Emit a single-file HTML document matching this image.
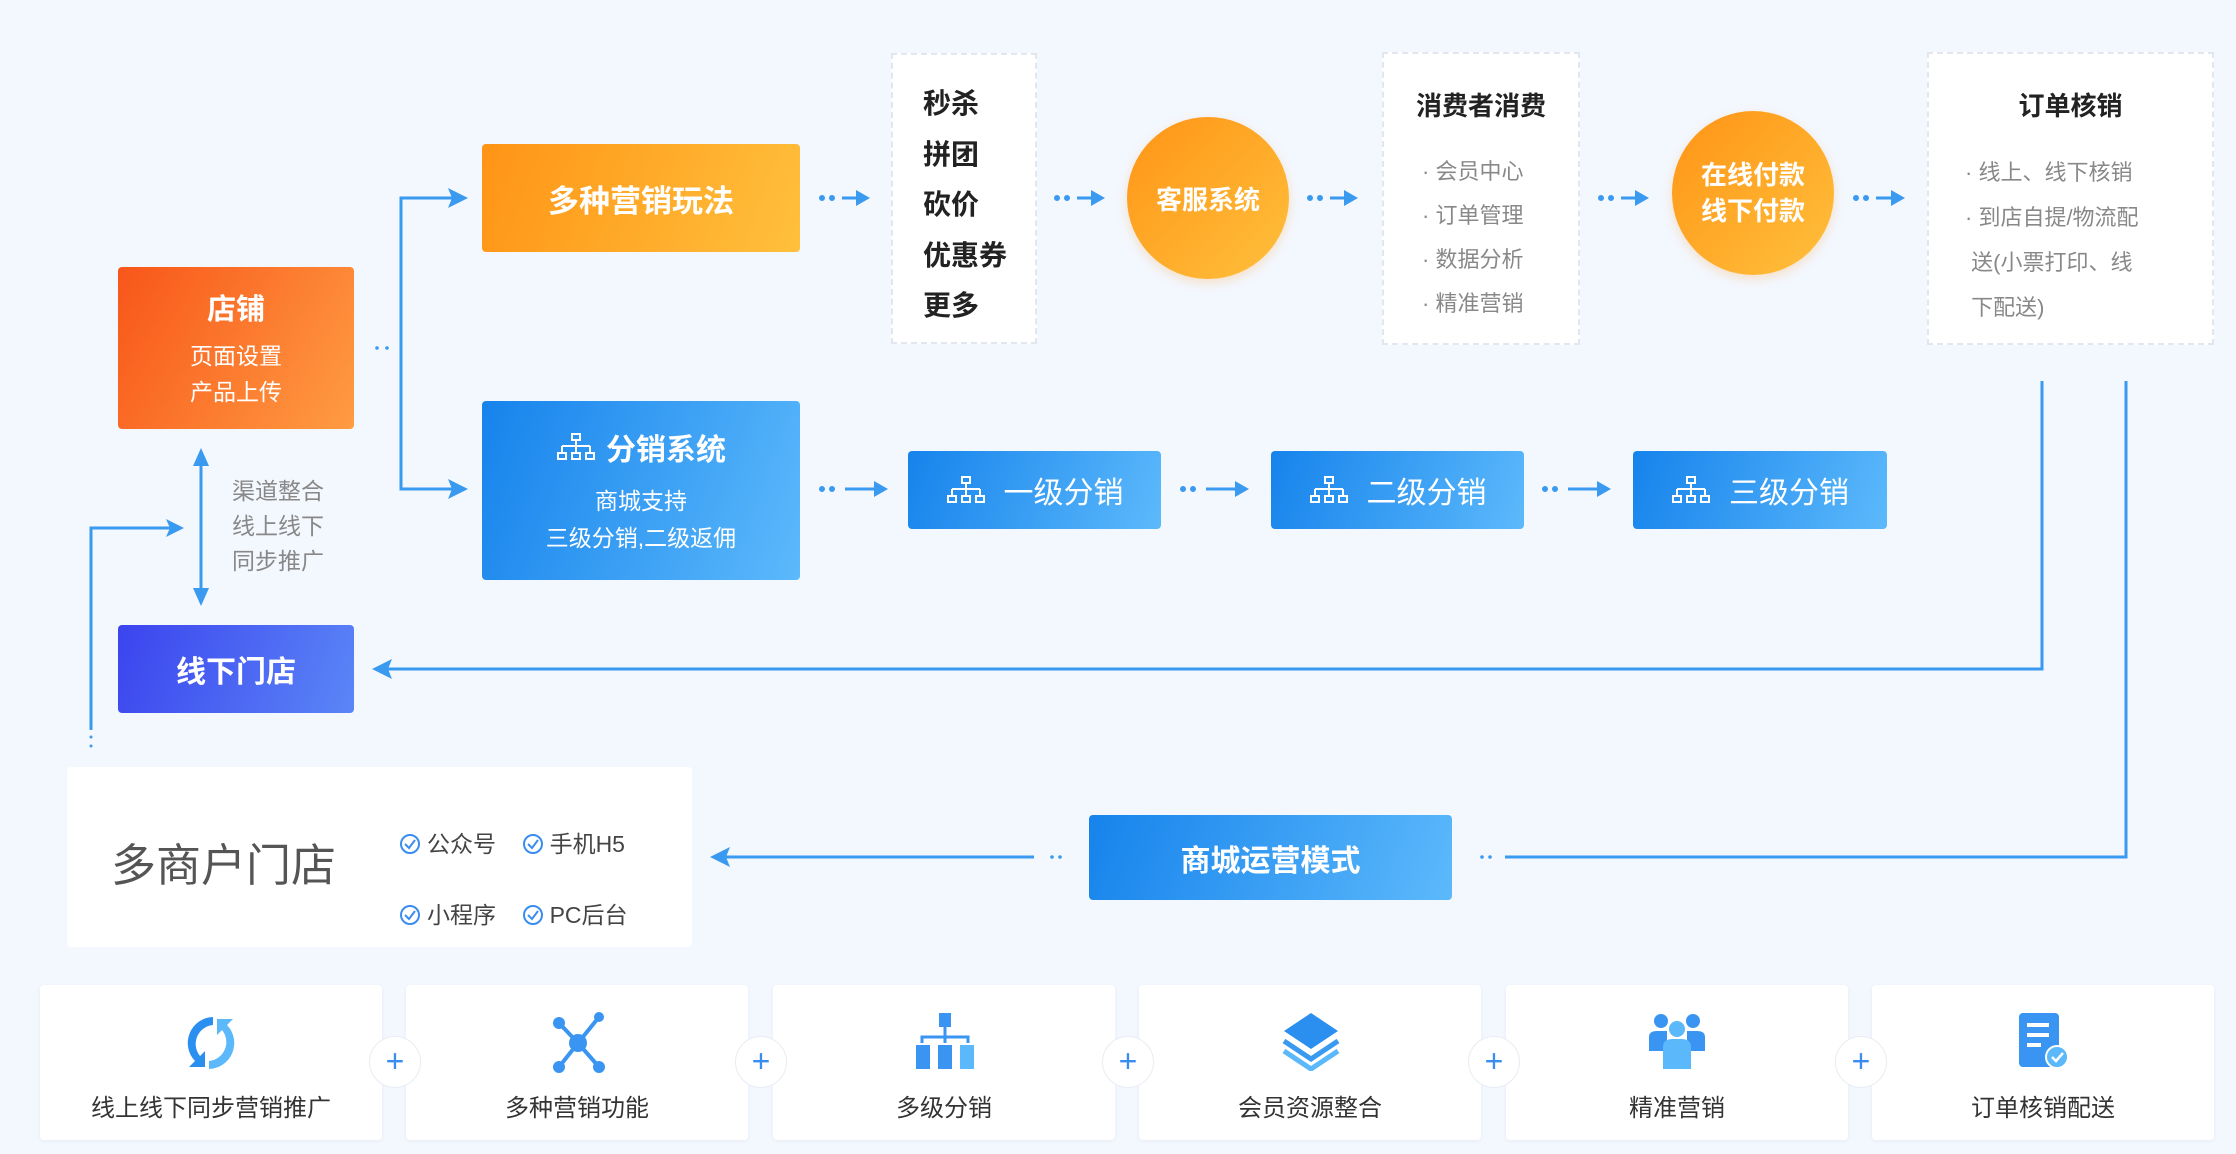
<!DOCTYPE html>
<html><head><meta charset="utf-8"><style>
*{margin:0;padding:0;box-sizing:border-box}
body{width:2236px;height:1154px;background:#f3f7fe;position:relative;overflow:hidden;font-family:"Liberation Sans","Noto Sans CJK SC",sans-serif}
.a{position:absolute}
.box{position:absolute;display:flex;flex-direction:column;align-items:center;justify-content:center;color:#fff;border-radius:4px}
.or{background:linear-gradient(110deg,#ff9416,#ffc03c)}
.bl{background:linear-gradient(110deg,#1683ec,#5cb9fb)}
.dash{position:absolute;background:#fff;border:2px dashed #e2e6ee}
.circ{position:absolute;border-radius:50%;background:linear-gradient(135deg,#ff9416,#ffc03c);color:#fff;display:flex;align-items:center;justify-content:center;text-align:center;font-weight:bold;box-shadow:0 4px 10px rgba(255,160,40,.25)}
.card{position:absolute;top:985px;height:155px;width:342px;background:#fff;border-radius:4px;box-shadow:0 1px 4px rgba(0,0,0,.05)}
.card .t{position:absolute;top:103px;width:100%;text-align:center;font-size:24px;color:#333}
.plus{position:absolute;top:1036px;width:52px;height:52px;border-radius:50%;background:#fff;border:1px solid #e8ecf3;color:#3a8df0;font-size:32px;line-height:48px;text-align:center}
.g{color:#888;font-size:22px}
.ck{display:inline-block;vertical-align:-3px;margin-right:6px}
</style></head><body>

<svg class="a" style="left:0;top:0" width="2236" height="1154">
<g stroke="#3a9af0" stroke-width="3" fill="none">
<path d="M455,198 H401 V489 H455"/>
<path d="M201,455 V600" />
<path d="M91,730 V528 H170"/>
<path d="M2042,381 V669 H380"/>
<path d="M2126,381 V857 H1505"/>
<path d="M1034,857 H715"/>
</g>
<g fill="#3a9af0">
<polygon points="468,198 448,188 452,198 448,208"/>
<polygon points="468,489 448,479 452,489 448,499"/>
<polygon points="201,448 193,466 209,466"/><polygon points="201,606 193,588 209,588"/>
<polygon points="184,528 166,519 170,528 166,537"/>
<polygon points="372,669 392,659 388,669 392,679"/>
<polygon points="710,857 730,847 726,857 730,867"/>
<circle cx="91" cy="737" r="1.5"/><circle cx="91" cy="746" r="1.5"/>
<circle cx="377" cy="348" r="1.8"/><circle cx="387" cy="348" r="1.8"/>
<circle cx="1052" cy="857" r="1.8"/><circle cx="1060" cy="857" r="1.8"/>
<circle cx="1482" cy="857" r="1.8"/><circle cx="1490" cy="857" r="1.8"/>
</g>
<g fill="#3a9af0" stroke="#3a9af0" stroke-width="3">
<g><circle cx="822" cy="198" r="1.5"/><circle cx="832" cy="198" r="1.5"/><line x1="842" y1="198" x2="862" y2="198"/><polygon points="870,198 856,190 856,206" stroke="none"/></g>
<g><circle cx="1057" cy="198" r="1.5"/><circle cx="1067" cy="198" r="1.5"/><line x1="1077" y1="198" x2="1097" y2="198"/><polygon points="1105,198 1091,190 1091,206" stroke="none"/></g>
<g><circle cx="1310" cy="198" r="1.5"/><circle cx="1320" cy="198" r="1.5"/><line x1="1330" y1="198" x2="1350" y2="198"/><polygon points="1358,198 1344,190 1344,206" stroke="none"/></g>
<g><circle cx="1601" cy="198" r="1.5"/><circle cx="1611" cy="198" r="1.5"/><line x1="1621" y1="198" x2="1641" y2="198"/><polygon points="1649,198 1635,190 1635,206" stroke="none"/></g>
<g><circle cx="1856" cy="198" r="1.5"/><circle cx="1866" cy="198" r="1.5"/><line x1="1876" y1="198" x2="1897" y2="198"/><polygon points="1905,198 1891,190 1891,206" stroke="none"/></g>
<g><circle cx="822" cy="489" r="1.5"/><circle cx="832" cy="489" r="1.5"/><line x1="845" y1="489" x2="880" y2="489"/><polygon points="888,489 874,481 874,497" stroke="none"/></g>
<g><circle cx="1183" cy="489" r="1.5"/><circle cx="1193" cy="489" r="1.5"/><line x1="1206" y1="489" x2="1241" y2="489"/><polygon points="1249,489 1235,481 1235,497" stroke="none"/></g>
<g><circle cx="1545" cy="489" r="1.5"/><circle cx="1555" cy="489" r="1.5"/><line x1="1568" y1="489" x2="1603" y2="489"/><polygon points="1611,489 1597,481 1597,497" stroke="none"/></g>
</g>
</svg>

<div class="box" style="left:118px;top:267px;width:236px;height:162px;background:linear-gradient(120deg,#f8561a,#ff9c42)">
<div style="font-size:29px;font-weight:bold;margin-bottom:10px">店铺</div>
<div style="font-size:23px;line-height:36px;text-align:center">页面设置<br>产品上传</div></div>

<div class="box or" style="left:482px;top:144px;width:318px;height:108px;font-size:31px;font-weight:bold">多种营销玩法</div>

<div class="box bl" style="left:482px;top:401px;width:318px;height:179px">
<div style="font-size:30px;font-weight:bold;margin-bottom:14px;display:flex;align-items:center"><svg width="40" height="30" viewBox="0 0 40 30" style="margin-right:10px" fill="none" stroke="#fff" stroke-width="2"><rect x="16" y="2" width="8" height="6"/><path d="M20,8V14M6,14H34M6,14V21M20,14V21M34,14V21"/><rect x="2" y="21" width="8" height="6"/><rect x="16" y="21" width="8" height="6"/><rect x="30" y="21" width="8" height="6"/></svg>分销系统</div>
<div style="font-size:23px;line-height:37px;text-align:center">商城支持<br>三级分销,二级返佣</div></div>

<div class="box" style="left:118px;top:625px;width:236px;height:88px;background:linear-gradient(110deg,#3b44ee,#5b86f7);font-size:30px;font-weight:bold">线下门店</div>

<div class="a g" style="left:232px;top:474px;line-height:35px;font-size:23px">渠道整合<br>线上线下<br>同步推广</div>

<div class="dash" style="left:891px;top:53px;width:146px;height:291px">
<div style="position:absolute;left:30px;top:24px;font-size:28px;line-height:50.5px;color:#222;font-weight:bold">秒杀<br>拼团<br>砍价<br>优惠券<br>更多</div></div>

<div class="circ" style="left:1127px;top:117px;width:162px;height:162px;font-size:26px">客服系统</div>

<div class="dash" style="left:1382px;top:52px;width:198px;height:293px">
<div style="position:absolute;top:32px;width:100%;text-align:center;font-size:26px;font-weight:bold;color:#222">消费者消费</div>
<div class="g" style="position:absolute;left:38px;top:96px;line-height:44px">· 会员中心<br>· 订单管理<br>· 数据分析<br>· 精准营销</div></div>

<div class="circ" style="left:1672px;top:111px;width:162px;height:164px;font-size:26px;line-height:36px">在线付款<br>线下付款</div>

<div class="dash" style="left:1927px;top:52px;width:287px;height:293px">
<div style="position:absolute;top:32px;width:100%;text-align:center;font-size:26px;font-weight:bold;color:#222">订单核销</div>
<div class="g" style="position:absolute;left:36px;top:96px;width:240px;line-height:45px">· 线上、线下核销<br>· 到店自提/物流配<br>&nbsp;送(小票打印、线<br>&nbsp;下配送)</div></div>

<div class="box bl" style="left:908px;top:451px;width:253px;height:78px;flex-direction:row;font-size:30px"><svg width="40" height="30" viewBox="0 0 40 30" style="margin-right:18px" fill="none" stroke="#fff" stroke-width="2"><rect x="16" y="2" width="8" height="6"/><path d="M20,8V14M6,14H34M6,14V21M20,14V21M34,14V21"/><rect x="2" y="21" width="8" height="6"/><rect x="16" y="21" width="8" height="6"/><rect x="30" y="21" width="8" height="6"/></svg>一级分销</div>
<div class="box bl" style="left:1271px;top:451px;width:253px;height:78px;flex-direction:row;font-size:30px"><svg width="40" height="30" viewBox="0 0 40 30" style="margin-right:18px" fill="none" stroke="#fff" stroke-width="2"><rect x="16" y="2" width="8" height="6"/><path d="M20,8V14M6,14H34M6,14V21M20,14V21M34,14V21"/><rect x="2" y="21" width="8" height="6"/><rect x="16" y="21" width="8" height="6"/><rect x="30" y="21" width="8" height="6"/></svg>二级分销</div>
<div class="box bl" style="left:1633px;top:451px;width:254px;height:78px;flex-direction:row;font-size:30px"><svg width="40" height="30" viewBox="0 0 40 30" style="margin-right:18px" fill="none" stroke="#fff" stroke-width="2"><rect x="16" y="2" width="8" height="6"/><path d="M20,8V14M6,14H34M6,14V21M20,14V21M34,14V21"/><rect x="2" y="21" width="8" height="6"/><rect x="16" y="21" width="8" height="6"/><rect x="30" y="21" width="8" height="6"/></svg>三级分销</div>

<div class="box bl" style="left:1089px;top:815px;width:363px;height:85px;font-size:30px;font-weight:bold">商城运营模式</div>

<div class="a" style="left:67px;top:767px;width:625px;height:180px;background:#fff;border-radius:4px">
<div class="a" style="left:44px;top:62px;font-size:45px;color:#555">多商户门店</div>
<div class="a" style="left:332px;top:42px;font-size:23px;color:#444;line-height:71px">
<svg class="ck" width="22" height="22" viewBox="0 0 22 22"><circle cx="11" cy="11" r="9" fill="none" stroke="#3a8df0" stroke-width="2"/><polyline points="6,11 10,15 16,7" fill="none" stroke="#3a8df0" stroke-width="2"/></svg>公众号&nbsp;&nbsp;&nbsp;&nbsp;<svg class="ck" width="22" height="22" viewBox="0 0 22 22"><circle cx="11" cy="11" r="9" fill="none" stroke="#3a8df0" stroke-width="2"/><polyline points="6,11 10,15 16,7" fill="none" stroke="#3a8df0" stroke-width="2"/></svg>手机H5<br>
<svg class="ck" width="22" height="22" viewBox="0 0 22 22"><circle cx="11" cy="11" r="9" fill="none" stroke="#3a8df0" stroke-width="2"/><polyline points="6,11 10,15 16,7" fill="none" stroke="#3a8df0" stroke-width="2"/></svg>小程序&nbsp;&nbsp;&nbsp;&nbsp;<svg class="ck" width="22" height="22" viewBox="0 0 22 22"><circle cx="11" cy="11" r="9" fill="none" stroke="#3a8df0" stroke-width="2"/><polyline points="6,11 10,15 16,7" fill="none" stroke="#3a8df0" stroke-width="2"/></svg>PC后台</div></div>

<div class="card" style="left:40px"><svg class="a" style="left:141px;top:28px" width="60" height="60" viewBox="0 0 60 60"><path d="M32,4 A26,26 0 0 0 14,48 L8,54 L24,54 L24,38 L19,43 A19,19 0 0 1 32,12Z" fill="#2b8ff0"/><path d="M28,56 A26,26 0 0 0 46,12 L52,6 L36,6 L36,22 L41,17 A19,19 0 0 1 28,48Z" fill="#5ab8fb"/></svg><div class="t">线上线下同步营销推广</div></div>
<div class="card" style="left:406px"><svg class="a" style="left:141px;top:26px" width="62" height="64" viewBox="0 0 62 64" fill="#3a95f2"><line x1="31" y1="32" x2="12" y2="12" stroke="#3a95f2" stroke-width="4"/><line x1="31" y1="32" x2="52" y2="6" stroke="#3a95f2" stroke-width="4"/><line x1="31" y1="32" x2="12" y2="56" stroke="#3a95f2" stroke-width="4"/><line x1="31" y1="32" x2="52" y2="56" stroke="#3a95f2" stroke-width="4"/><circle cx="31" cy="32" r="9"/><circle cx="12" cy="12" r="6"/><circle cx="52" cy="6" r="5"/><circle cx="12" cy="56" r="6"/><circle cx="52" cy="56" r="6"/></svg><div class="t">多种营销功能</div></div>
<div class="card" style="left:773px"><svg class="a" style="left:141px;top:28px" width="62" height="58" viewBox="0 0 62 58" fill="#3a95f2"><rect x="25" y="0" width="12" height="14"/><path d="M31,14V24M8,30V24H54V30M31,24V30" stroke="#3a95f2" stroke-width="3" fill="none"/><rect x="2" y="32" width="14" height="24"/><rect x="24" y="32" width="14" height="24"/><rect x="46" y="32" width="14" height="24" fill="#5ab8fb"/></svg><div class="t">多级分销</div></div>
<div class="card" style="left:1139px"><svg class="a" style="left:143px;top:26px" width="58" height="60" viewBox="0 0 58 60"><polygon points="29,2 56,20 29,38 2,20" fill="#2b8ff0"/><polyline points="2,30 29,48 56,30" fill="none" stroke="#3a9af0" stroke-width="5"/><polyline points="2,40 29,58 56,40" fill="none" stroke="#5ab8fb" stroke-width="5"/></svg><div class="t">会员资源整合</div></div>
<div class="card" style="left:1506px"><svg class="a" style="left:141px;top:26px" width="60" height="60" viewBox="0 0 60 60" fill="#3a95f2"><circle cx="14" cy="10" r="7"/><circle cx="46" cy="10" r="7"/><path d="M2,40 V26 Q2,20 10,20 H20 V40Z"/><path d="M58,40 V26 Q58,20 50,20 H40 V40Z"/><circle cx="30" cy="18" r="8" fill="#5ab8fb"/><path d="M16,58 V36 Q16,28 26,28 H34 Q44,28 44,36 V58Z" fill="#5ab8fb"/></svg><div class="t">精准营销</div></div>
<div class="card" style="left:1872px"><svg class="a" style="left:145px;top:26px" width="54" height="60" viewBox="0 0 54 60"><rect x="2" y="2" width="40" height="54" rx="4" fill="#3a95f2"/><rect x="10" y="12" width="22" height="4" fill="#fff"/><rect x="10" y="22" width="22" height="4" fill="#fff"/><rect x="10" y="32" width="14" height="4" fill="#fff"/><circle cx="40" cy="46" r="11" fill="#5ab8fb" stroke="#fff" stroke-width="2"/><polyline points="35,46 39,50 46,42" stroke="#fff" stroke-width="2.5" fill="none"/></svg><div class="t">订单核销配送</div></div>

<div class="plus" style="left:369px">+</div>
<div class="plus" style="left:735px">+</div>
<div class="plus" style="left:1102px">+</div>
<div class="plus" style="left:1468px">+</div>
<div class="plus" style="left:1835px">+</div>
</body></html>
